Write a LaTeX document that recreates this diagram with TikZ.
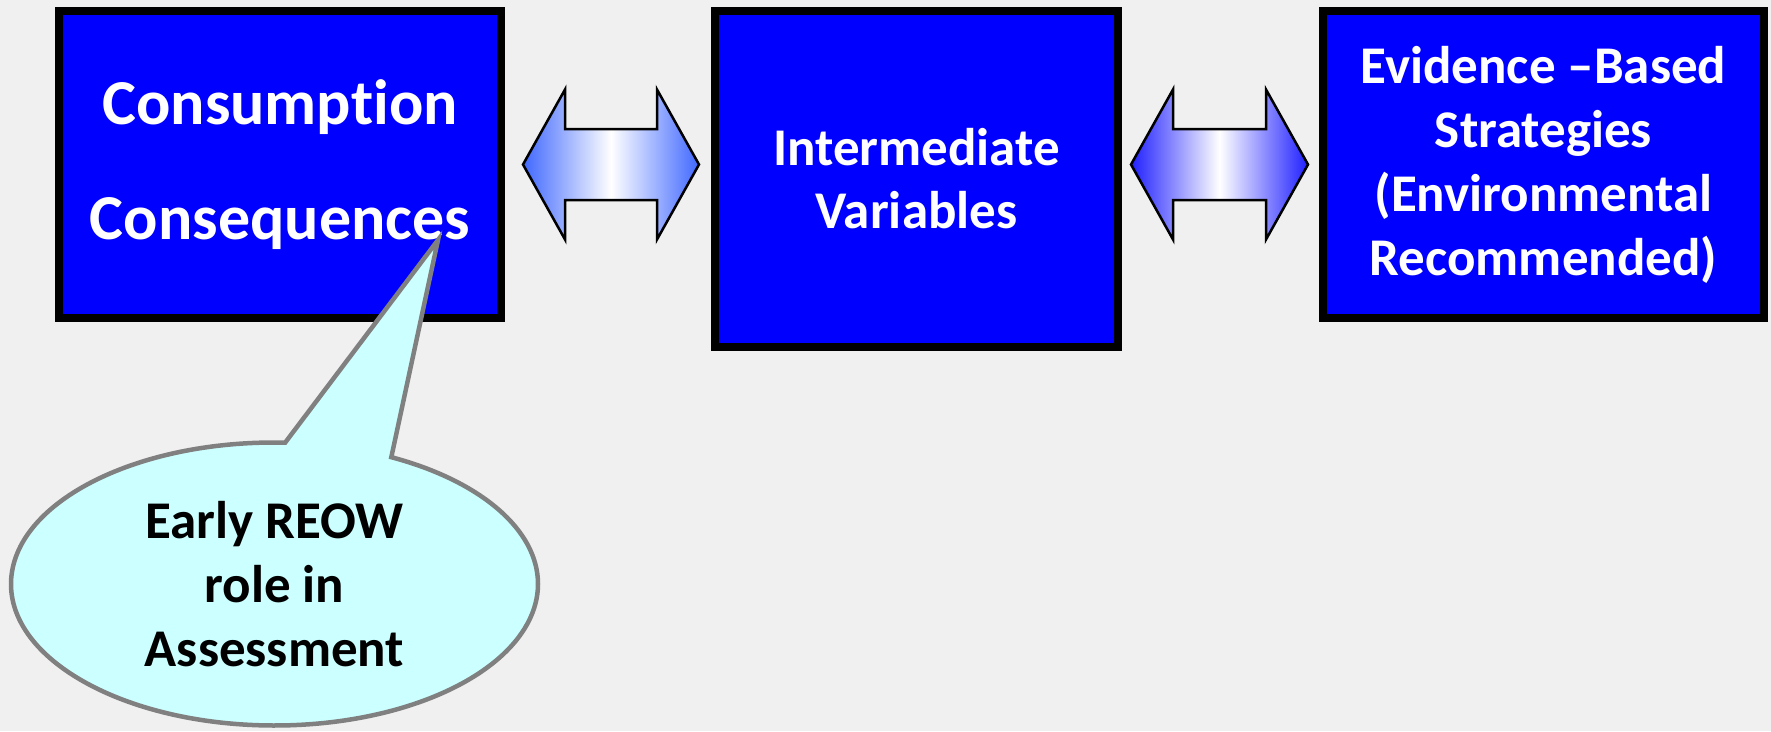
\documentclass[tikz,border=0pt]{standalone}
\usepackage{fontspec}
\setmainfont{Carlito}[Ligatures=NoCommon]
\usepackage{tikz}
\usetikzlibrary{shapes,shapes.callouts,calc,positioning}
\definecolor{bgGray}{RGB}{240,240,240}
\definecolor{boxBlue}{RGB}{0,0,255}
\definecolor{calloutCyan}{RGB}{204,255,255}
\definecolor{arrowBlueA}{RGB}{64,104,255}
\definecolor{arrowBlueB}{RGB}{32,32,255}

\begin{document}
\begin{tikzpicture}[
    x=1pt, y=-1pt,
    box/.style={rectangle, draw=black, line width=8pt, fill=boxBlue, text=white, align=center},
    dblarrow/.style={draw=black, line width=2.5pt, line join=miter},
    callout/.style={ellipse callout, draw=gray, line width=4.5pt, fill=calloutCyan, align=center, font=\bfseries\fontsize{53}{64}\selectfont, minimum width=527pt, minimum height=283pt, callout pointer arc=24}
]
    % Background and page size
    \fill[bgGray] (0,0) rectangle (1771,731);
    \useasboundingbox (0,0) rectangle (1771,731);

    % The three boxes
    \node[box, minimum width=442pt, minimum height=307pt, font=\bfseries\fontsize{64}{115}\selectfont] (cons) at (280,164.5) {Consumption\\Consequences};
    \node[box, minimum width=403pt, minimum height=336pt, font=\bfseries\fontsize{53}{63}\selectfont] (inter) at (916.5,179) {Intermediate\\Variables};
    \node[box, minimum width=441pt, minimum height=307pt, font=\bfseries\fontsize{53}{64}\selectfont] (evid) at (1543.5,164.5) {Evidence –Based\\Strategies\\(Environmental\\Recommended)};

    % Double arrows between boxes
    \coordinate (a1l) at ($(cons.east)+(18,0)$);
    \coordinate (a1r) at ($(inter.west |- cons.east)+(-12,0)$);
    \coordinate (a2l) at ($(inter.east |- evid.west)+(9,0)$);
    \coordinate (a2r) at ($(evid.west)+(-11,0)$);

    \draw[dblarrow, left color=arrowBlueA, right color=arrowBlueA, middle color=white]
        (a1l) -- ++(42,-75) -- ++(0,39.5) -- ($(a1r)+(-42,-35.5)$) -- ++(0,-39.5) -- (a1r)
        -- ++(-42,75) -- ++(0,-39.5) -- ($(a1l)+(42,35.5)$) -- ++(0,39.5) -- cycle;
    \draw[dblarrow, left color=arrowBlueB, right color=arrowBlueB, middle color=white]
        (a2l) -- ++(42,-75) -- ++(0,39.5) -- ($(a2r)+(-42,-35.5)$) -- ++(0,-39.5) -- (a2r)
        -- ++(-42,75) -- ++(0,-39.5) -- ($(a2l)+(42,35.5)$) -- ++(0,39.5) -- cycle;

    % Callout
    \coordinate (tip) at ($(cons.center)+(158,75.5)$);
    \node[callout, callout absolute pointer={(tip)}] (reow) at (274.5,584) {Early REOW\\role in\\Assessment};
\end{tikzpicture}
\end{document}
